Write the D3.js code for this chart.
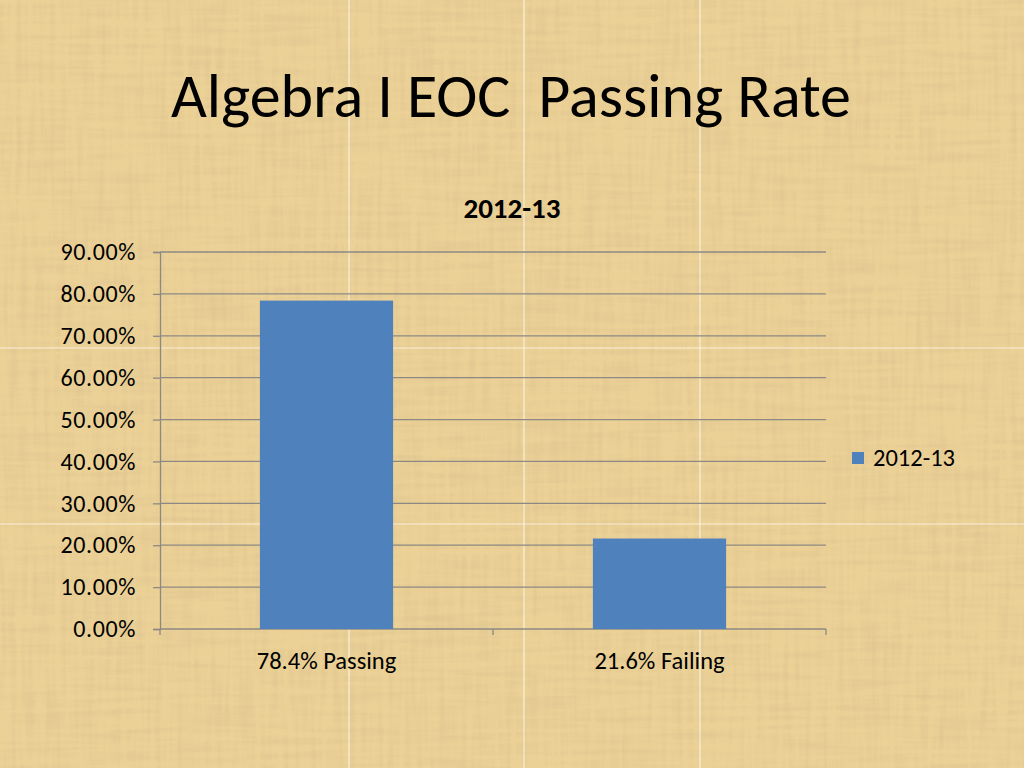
<!DOCTYPE html>
<html>
<head>
<meta charset="utf-8">
<script src="https://cdn.jsdelivr.net/npm/d3@7"></script>
<style>
  body { margin: 0; overflow: hidden; background: #e8d098; }
</style>
</head>
<body>
<script>
// data
var categories = ["78.4% Passing", "21.6% Failing"];
var values = [0.784, 0.216];
var seriesName = "2012-13";
var yTicks = [0, 0.1, 0.2, 0.3, 0.4, 0.5, 0.6, 0.7, 0.8, 0.9];
var titleText = "Algebra I EOC  Passing Rate";
var chartTitle = "2012-13";

var W = 1024, H = 768;
var margin = {top: 252, right: 198, bottom: 139, left: 160},
    width = W - margin.left - margin.right,
    height = H - margin.top - margin.bottom;

var font = "Carlito, Calibri, Lato, sans-serif";
var gridColor = "#8c8984";

var svg = d3.select("body").append("svg")
    .attr("width", W)
    .attr("height", H);

// papyrus-ish background texture
var defs = svg.append("defs");
var f = defs.append("filter").attr("id", "papyrus")
    .attr("x", 0).attr("y", 0).attr("width", "100%").attr("height", "100%");
f.append("feTurbulence").attr("type", "fractalNoise")
    .attr("baseFrequency", "0.18 0.012").attr("numOctaves", 2).attr("seed", 4).attr("result", "v");
f.append("feTurbulence").attr("type", "fractalNoise")
    .attr("baseFrequency", "0.012 0.18").attr("numOctaves", 2).attr("seed", 9).attr("result", "h");
f.append("feComposite").attr("in", "v").attr("in2", "h")
    .attr("operator", "arithmetic").attr("k2", 0.5).attr("k3", 0.5).attr("result", "n");
f.append("feColorMatrix").attr("in", "n").attr("type", "matrix")
    .attr("values", "0 0 0 0 0.66  0 0 0 0 0.5  0 0 0 0 0.26  2.4 0 0 0 -1.0");

svg.append("rect").attr("width", W).attr("height", H).attr("fill", "#ebd196");
svg.append("rect").attr("width", W).attr("height", H)
    .attr("filter", "url(#papyrus)").attr("opacity", 0.5);

// faint tile seams of the texture
var seamsX = [349, 524, 700], seamsY = [348, 524];
svg.selectAll(".seamx").data(seamsX).enter().append("line")
    .attr("x1", function(d) { return d; }).attr("x2", function(d) { return d; })
    .attr("y1", 0).attr("y2", H)
    .style("stroke", "#fffaf0").style("opacity", 0.75).style("stroke-width", 1.2);
svg.selectAll(".seamy").data(seamsY).enter().append("line")
    .attr("y1", function(d) { return d; }).attr("y2", function(d) { return d; })
    .attr("x1", 0).attr("x2", W)
    .style("stroke", "#fffaf0").style("opacity", 0.75).style("stroke-width", 1.2);

// slide title
svg.append("text")
    .attr("x", 511).attr("y", 117)
    .attr("text-anchor", "middle")
    .style("white-space", "pre")
    .attr("font-family", font).attr("font-size", "62px")
    .attr("fill", "#000")
    .text(titleText);

// chart title
svg.append("text")
    .attr("x", 512).attr("y", 218)
    .attr("text-anchor", "middle")
    .attr("font-family", font).attr("font-size", "29px").attr("font-weight", "bold")
    .attr("fill", "#000")
    .text(chartTitle);

var g = svg.append("g")
    .attr("transform", "translate(" + margin.left + "," + margin.top + ")");

var x = d3.scaleBand().domain(categories).range([0, width]).padding(0);
var y = d3.scaleLinear().domain([0, 0.9]).range([height, 0]);

// gridlines
g.selectAll(".grid").data(yTicks).enter().append("line")
    .attr("x1", 0).attr("x2", width)
    .attr("y1", function(d) { return y(d); })
    .attr("y2", function(d) { return y(d); })
    .style("stroke", gridColor).style("stroke-width", 1.3);

// y axis
var yAxis = g.append("g")
    .call(d3.axisLeft(y).tickValues(yTicks).tickFormat(d3.format(".2%"))
        .tickSize(7).tickPadding(17));
yAxis.select(".domain").style("stroke", gridColor).style("stroke-width", 1.3);
yAxis.selectAll(".tick line").style("stroke", gridColor).style("stroke-width", 1.3);
yAxis.selectAll("text")
    .attr("font-family", font).attr("font-size", "24px").attr("fill", "#000")
    .style("letter-spacing", "0.6px");

// x axis: baseline plus ticks on the category boundaries
var bounds = categories.map(function(c) { return x(c); }).concat([x.range()[1]]);
g.selectAll(".xtick").data(bounds).enter().append("line")
    .attr("x1", function(d) { return d; }).attr("x2", function(d) { return d; })
    .attr("y1", height).attr("y2", height + 6)
    .style("stroke", gridColor).style("stroke-width", 1.3);

g.selectAll(".xlabel").data(categories).enter().append("text")
    .attr("x", function(d) { return x(d) + x.bandwidth() / 2; })
    .attr("y", height + 40)
    .attr("text-anchor", "middle")
    .attr("font-family", font).attr("font-size", "24.5px").attr("fill", "#000")
    .text(function(d) { return d; });

// bars (gap width 150%)
var barW = x.bandwidth() / 2.5;
g.selectAll(".bar").data(values).enter().append("rect")
    .attr("x", function(d, i) { return x(categories[i]) + (x.bandwidth() - barW) / 2; })
    .attr("y", function(d) { return y(d); })
    .attr("width", barW)
    .attr("height", function(d) { return height - y(d); })
    .style("fill", "#4f81bd");

// legend
var legend = svg.append("g").attr("transform", "translate(852,452)");
legend.append("rect").attr("width", 12).attr("height", 12).style("fill", "#4f81bd");
legend.append("text")
    .attr("x", 21).attr("y", 14)
    .attr("font-family", font).attr("font-size", "24.5px").attr("fill", "#000")
    .text(seriesName);
</script>
</body>
</html>
